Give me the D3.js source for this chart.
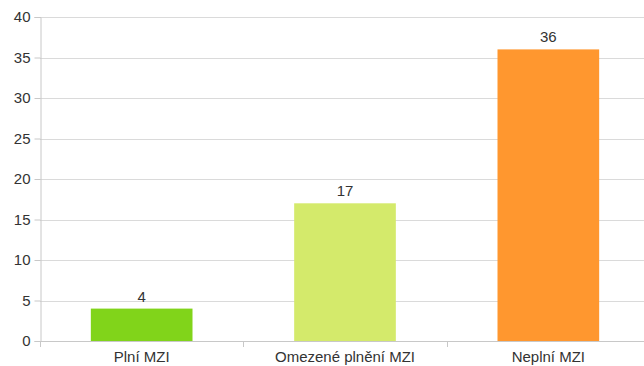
<!DOCTYPE html>
<html>
<head>
<meta charset="utf-8">
<script src="https://cdn.jsdelivr.net/npm/d3@7"></script>
<style>
  html, body { margin: 0; padding: 0; background: #fff; }
  svg { display: block; }
  text { font-family: "Liberation Sans", Arial, sans-serif; fill: #333; }
</style>
</head>
<body>
<svg id="chart" width="644" height="366"></svg>
<script>
// Chart data
const categories = ["Plní MZI", "Omezené plnění MZI", "Neplní MZI"];
const values = [4, 17, 36];
const colors = ["#81d41a", "#d4ea6b", "#ff972f"];
const yTicks = [0, 5, 10, 15, 20, 25, 30, 35, 40];

(function draw() {
  const svg = d3.select("#chart");
  const plotLeft = 40, plotRight = 650, plotTop = 17, plotBottom = 341;
  const fontSize = 15;

  const x = d3.scaleBand().domain(categories).range([plotLeft, plotRight]).paddingInner(0).paddingOuter(0);
  const y = d3.scaleLinear().domain([0, 40]).range([plotBottom, plotTop]);

  // Horizontal gridlines
  svg.append("g")
    .selectAll("line")
    .data(yTicks)
    .join("line")
    .attr("x1", plotLeft).attr("x2", plotRight)
    .attr("y1", d => Math.round(y(d)) + 0.5).attr("y2", d => Math.round(y(d)) + 0.5)
    .attr("stroke", "#dadada").attr("stroke-width", 1);

  // Y axis
  const yAxis = svg.append("g")
    .attr("transform", `translate(${plotLeft + 0.5},0)`)
    .call(d3.axisLeft(y).tickValues(yTicks).tickSize(6).tickPadding(4));
  yAxis.select(".domain").attr("stroke", "#c8c8c8");
  yAxis.selectAll(".tick line").attr("stroke", "#c8c8c8");
  yAxis.selectAll(".tick text").attr("font-size", fontSize).style("fill", "#333")
    .style("font-family", "'Liberation Sans', Arial, sans-serif");

  // Bars
  const barW = x.bandwidth() * 0.5;
  svg.append("g")
    .selectAll("rect")
    .data(values)
    .join("rect")
    .attr("x", (d, i) => x(categories[i]) + (x.bandwidth() - barW) / 2)
    .attr("width", barW)
    .attr("y", d => y(d))
    .attr("height", d => plotBottom - y(d))
    .attr("fill", (d, i) => colors[i]);

  // X axis with category boundary ticks
  const xg = svg.append("g");
  xg.append("line")
    .attr("x1", plotLeft).attr("x2", plotRight)
    .attr("y1", plotBottom + 0.5).attr("y2", plotBottom + 0.5)
    .attr("stroke", "#c8c8c8");
  const bounds = categories.map(c => x(c)).concat([plotRight]);
  xg.selectAll("line.b")
    .data(bounds)
    .join("line")
    .attr("class", "b")
    .attr("x1", d => Math.round(d) + 0.5).attr("x2", d => Math.round(d) + 0.5)
    .attr("y1", plotBottom).attr("y2", plotBottom + 6)
    .attr("stroke", "#c8c8c8");
  xg.selectAll("text")
    .data(categories)
    .join("text")
    .attr("x", d => x(d) + x.bandwidth() / 2)
    .attr("y", 362)
    .attr("text-anchor", "middle")
    .attr("font-size", fontSize)
    .text(d => d);

  // Value labels
  svg.append("g")
    .selectAll("text")
    .data(values)
    .join("text")
    .attr("x", (d, i) => x(categories[i]) + x.bandwidth() / 2)
    .attr("y", d => y(d) - 7)
    .attr("text-anchor", "middle")
    .attr("font-size", fontSize)
    .text(d => d);
})();
</script>
</body>
</html>
